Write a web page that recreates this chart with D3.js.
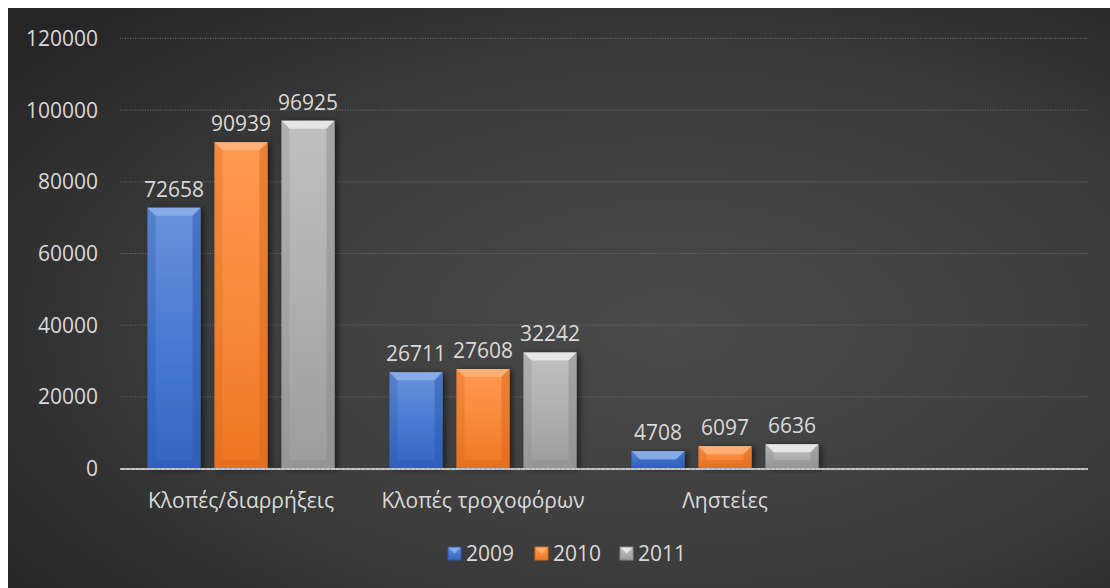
<!DOCTYPE html>
<html>
<head>
<meta charset="utf-8">
<script src="https://cdn.jsdelivr.net/npm/d3@7"></script>
<style>
  html, body { margin: 0; padding: 0; background: #ffffff; }
  svg { display: block; }
  text { font-family: "Open Sans", "Liberation Sans", sans-serif; fill: #d9d9d9; }
</style>
</head>
<body>
<svg id="chart" width="1110" height="588"></svg>
<script>
// Crime categories (the last slot is an empty category in the sheet)
const categories = ["Κλοπές/διαρρήξεις", "Κλοπές τροχοφόρων", "Ληστείες", ""];
const seriesNames = ["2009", "2010", "2011"];
const values2009 = [72658, 26711, 4708, null];
const values2010 = [90939, 27608, 6097, null];
const values2011 = [96925, 32242, 6636, null];
const yTicks = [0, 20000, 40000, 60000, 80000, 100000, 120000];

const seriesValues = [values2009, values2010, values2011];
const palette = [
  { top: "#6a93db", mid: "#4a7bd2", bottom: "#3464c2", light: "#8fb0ea", dark: "#2c58ad" },
  { top: "#ff9a52", mid: "#f88a3c", bottom: "#ee7621", light: "#ffb47c", dark: "#d8681b" },
  { top: "#c0c0c0", mid: "#b0b0b0", bottom: "#9c9c9c", light: "#ececec", dark: "#8a8a8a" }
];

const svg = d3.select("#chart");
const W = 1110, H = 588;
const FS = "21px";
const defs = svg.append("defs");

// Dark panel with a soft radial light
const bg = defs.append("radialGradient").attr("id", "bg")
  .attr("cx", "0.6").attr("cy", "0.55").attr("r", "0.75");
bg.append("stop").attr("offset", "0").attr("stop-color", "#4a4a4a");
bg.append("stop").attr("offset", "0.55").attr("stop-color", "#3d3d3d");
bg.append("stop").attr("offset", "1").attr("stop-color", "#262626");

palette.forEach((p, i) => {
  const g = defs.append("linearGradient").attr("id", "bar" + i)
    .attr("x1", 0).attr("y1", 0).attr("x2", 0).attr("y2", 1);
  g.append("stop").attr("offset", "0").attr("stop-color", p.top);
  g.append("stop").attr("offset", "0.5").attr("stop-color", p.mid);
  g.append("stop").attr("offset", "1").attr("stop-color", p.bottom);
});

const shadow = defs.append("filter").attr("id", "shadow")
  .attr("x", "-30%").attr("y", "-10%").attr("width", "170%").attr("height", "130%");
shadow.append("feDropShadow").attr("dx", 3).attr("dy", 1).attr("stdDeviation", 3)
  .attr("flood-color", "#000").attr("flood-opacity", 0.55);

svg.append("rect").attr("x", 8).attr("y", 8).attr("width", W - 8).attr("height", H - 8)
  .attr("fill", "url(#bg)");

const plot = { left: 120, right: 1088, top: 38, bottom: 468 };

const x0 = d3.scaleBand().domain(d3.range(categories.length))
  .range([plot.left, plot.right]).paddingInner(0).paddingOuter(0);
const x1 = d3.scaleBand().domain(seriesNames)
  .range([27.5, x0.bandwidth() - 27.5]).paddingInner(14 / 67).paddingOuter(0);
const y = d3.scaleLinear().domain([0, 120000]).range([plot.bottom, plot.top]);

// Gridlines
svg.append("g").selectAll("line").data(yTicks.filter(d => d > 0)).join("line")
  .attr("x1", plot.left).attr("x2", plot.right)
  .attr("y1", d => y(d) + 0.5).attr("y2", d => y(d) + 0.5)
  .attr("stroke", "#707070").attr("stroke-width", 1).attr("stroke-dasharray", "1,1.5");

// Y axis labels
const yAxis = d3.axisLeft(y).tickValues(yTicks).tickSize(0).tickPadding(0)
  .tickFormat(d3.format("d"));
const yg = svg.append("g").attr("transform", `translate(${98},0)`).call(yAxis);
yg.select(".domain").remove();
yg.selectAll("text").style("font-size", FS).attr("fill", "#d9d9d9")
  .attr("font-family", null).attr("dy", "0.35em");

// Bars
const bevel = 8;
const barsG = svg.append("g");
seriesNames.forEach((name, si) => {
  const p = palette[si];
  seriesValues[si].forEach((v, ci) => {
    if (v == null) return;
    const bx = x0(ci) + x1(name);
    const bw = x1.bandwidth();
    const by = y(v);
    const bh = y(0) - by;
    const b = Math.min(bevel, bh / 2, bw / 2);
    const g = barsG.append("g");
    g.append("rect").attr("x", bx).attr("y", by).attr("width", bw).attr("height", bh)
      .attr("fill", `url(#bar${si})`).attr("filter", "url(#shadow)");
    // top facet
    g.append("polygon")
      .attr("points", [[bx, by], [bx + bw, by], [bx + bw - b, by + b], [bx + b, by + b]].join(" "))
      .attr("fill", p.light).attr("opacity", 0.85);
    // left facet
    g.append("polygon")
      .attr("points", [[bx, by], [bx + b, by + b], [bx + b, by + bh - b], [bx, by + bh]].join(" "))
      .attr("fill", p.dark).attr("opacity", 0.3);
    // right facet
    g.append("polygon")
      .attr("points", [[bx + bw, by], [bx + bw - b, by + b], [bx + bw - b, by + bh - b], [bx + bw, by + bh]].join(" "))
      .attr("fill", p.dark).attr("opacity", 0.5);
    // bottom facet
    g.append("polygon")
      .attr("points", [[bx, by + bh], [bx + b, by + bh - b], [bx + bw - b, by + bh - b], [bx + bw, by + bh]].join(" "))
      .attr("fill", p.dark).attr("opacity", 0.4);
    // value label
    svg.append("text").attr("x", bx + bw / 2).attr("y", by - 11)
      .attr("text-anchor", "middle").style("font-size", FS).text(v);
  });
});

// Zero axis line
svg.append("line").attr("x1", plot.left).attr("x2", plot.right)
  .attr("y1", y(0) + 1).attr("y2", y(0) + 1)
  .attr("stroke", "#c4c4c4").attr("stroke-width", 2);
svg.append("line").attr("x1", plot.left).attr("x2", plot.right)
  .attr("y1", y(0) + 1).attr("y2", y(0) + 1)
  .attr("stroke", "#8a8a8a").attr("stroke-width", 1).attr("stroke-dasharray", "1,4");

// Category labels
const xAxis = d3.axisBottom(x0).tickSize(0).tickPadding(0).tickFormat(i => categories[i]);
const xg = svg.append("g").attr("transform", `translate(0,${508})`).call(xAxis);
xg.select(".domain").remove();
xg.selectAll("text").style("font-size", FS).attr("fill", "#d9d9d9")
  .attr("font-family", null).attr("dy", 0);

// Legend
const legendX = [448, 535, 620];
const legend = svg.append("g");
seriesNames.forEach((name, si) => {
  const p = palette[si];
  const lx = legendX[si], ly = 547, s = 13;
  legend.append("rect").attr("x", lx).attr("y", ly).attr("width", s).attr("height", s)
    .attr("fill", `url(#bar${si})`);
  legend.append("polygon")
    .attr("points", [[lx, ly], [lx + s, ly], [lx + s / 2, ly + s / 2]].join(" "))
    .attr("fill", p.light).attr("opacity", 0.9);
  legend.append("rect").attr("x", lx).attr("y", ly).attr("width", s).attr("height", s)
    .attr("fill", "none").attr("stroke", p.dark).attr("stroke-width", 1);
  legend.append("text").attr("x", lx + s + 5).attr("y", ly + s / 2).attr("dy", "0.36em")
    .style("font-size", FS).text(name);
});
</script>
</body>
</html>
